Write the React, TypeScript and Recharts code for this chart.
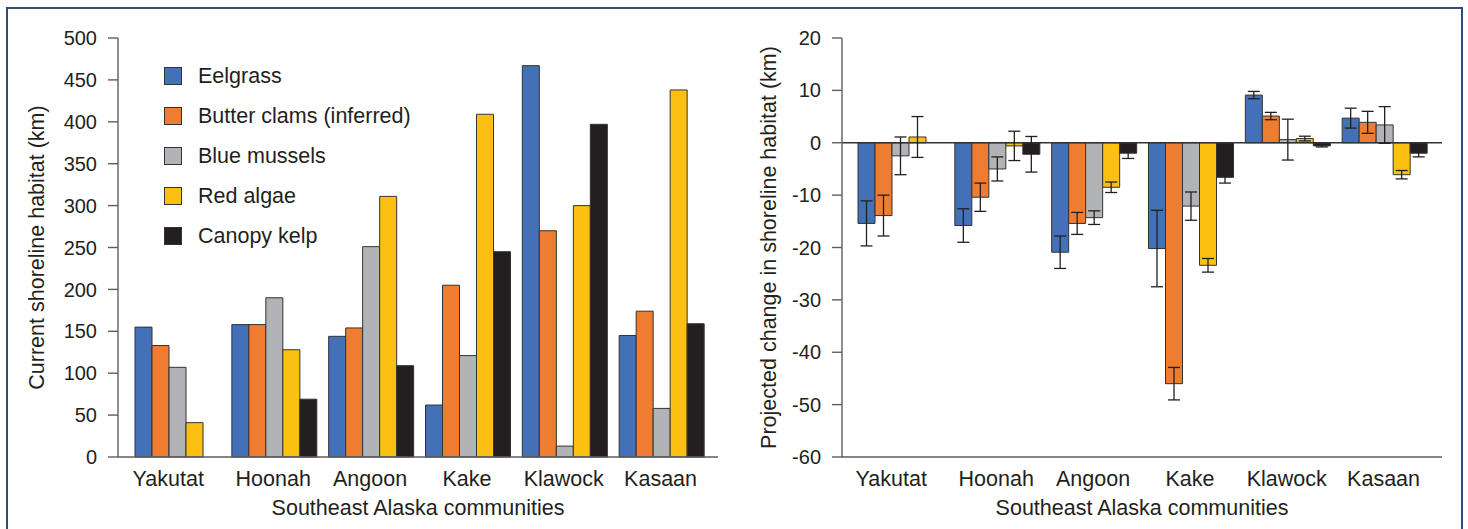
import { BarChart, Bar, XAxis, YAxis, Legend, ReferenceLine, ErrorBar } from 'recharts';

const COMMUNITIES = ['Yakutat', 'Hoonah', 'Angoon', 'Kake', 'Klawock', 'Kasaan'];

const SERIES = [
  { key: 'eelgrass', name: 'Eelgrass', color: '#4470b7' },
  { key: 'butter', name: 'Butter clams (inferred)', color: '#ee7d31' },
  { key: 'mussels', name: 'Blue mussels', color: '#b2b3b6' },
  { key: 'red', name: 'Red algae', color: '#fcc012' },
  { key: 'kelp', name: 'Canopy kelp', color: '#231f20' },
];

// current shoreline habitat (km)
const CURRENT_EELGRASS = [155, 158, 144, 62, 467, 145];
const CURRENT_BUTTER = [133, 158, 154, 205, 270, 174];
const CURRENT_MUSSELS = [107, 190, 251, 121, 13, 58];
const CURRENT_RED = [41, 128, 311, 409, 300, 438];
const CURRENT_KELP = [null, 69, 109, 245, 397, 159];
const CURRENT_TICKS = [0, 50, 100, 150, 200, 250, 300, 350, 400, 450, 500];

// projected change (km) and error
const CHANGE_EELGRASS = [-15.4, -15.8, -20.9, -20.2, 9.1, 4.7];
const CHANGE_BUTTER = [-13.9, -10.4, -15.4, -46.0, 5.1, 3.9];
const CHANGE_MUSSELS = [-2.5, -5.0, -14.3, -12.1, 0.6, 3.4];
const CHANGE_RED = [1.1, -0.6, -8.5, -23.4, 0.8, -6.1];
const CHANGE_KELP = [null, -2.2, -2.0, -6.6, -0.6, -2.0];
const ERR_EELGRASS = [4.3, 3.2, 3.1, 7.3, 0.7, 1.9];
const ERR_BUTTER = [3.9, 2.7, 2.1, 3.1, 0.7, 2.1];
const ERR_MUSSELS = [3.6, 2.3, 1.3, 2.7, 3.9, 3.5];
const ERR_RED = [3.9, 2.8, 1.0, 1.3, 0.45, 0.8];
const ERR_KELP = [null, 3.4, 1.0, 1.1, 0.2, 0.7];
const CHANGE_TICKS = [-60, -50, -40, -30, -20, -10, 0, 10, 20];

const currentData = COMMUNITIES.map((community, i) => ({
  community,
  eelgrass: CURRENT_EELGRASS[i],
  butter: CURRENT_BUTTER[i],
  mussels: CURRENT_MUSSELS[i],
  red: CURRENT_RED[i],
  kelp: CURRENT_KELP[i],
}));

const changeData = COMMUNITIES.map((community, i) => ({
  community,
  eelgrass: CHANGE_EELGRASS[i], eelgrassErr: ERR_EELGRASS[i],
  butter: CHANGE_BUTTER[i], butterErr: ERR_BUTTER[i],
  mussels: CHANGE_MUSSELS[i], musselsErr: ERR_MUSSELS[i],
  red: CHANGE_RED[i], redErr: ERR_RED[i],
  kelp: CHANGE_KELP[i], kelpErr: ERR_KELP[i],
}));

const FONT = '"Liberation Sans", Arial, Helvetica, sans-serif';
const TEXT = '#231f20';
const FRAME = '#5d5e61';
const BAR_W = 16.4;
const tick = { fontSize: 20, fill: TEXT, fontFamily: FONT };
const axisLine = { stroke: FRAME, strokeWidth: 1.4 };
const labelStyle = { fontSize: 21.5, fill: TEXT, fontFamily: FONT };

// community label sits over the bars that actually have data
function CommunityTick({ x, y, payload, data }: any) {
  const row = data[payload.index] || {};
  const missing = SERIES.filter(s => row[s.key] == null).length;
  return (
    <text x={x - (missing * BAR_W) / 2} y={y} dy="0.71em" textAnchor="middle"
      fontSize={21.5} fill={TEXT} fontFamily={FONT}>
      {payload.value}
    </text>
  );
}

function LegendBox() {
  return (
    <div style={{ fontFamily: FONT, fontSize: 21.5, color: TEXT }}>
      {SERIES.map(s => (
        <div key={s.key} style={{ display: 'flex', alignItems: 'center', height: 40 }}>
          <span style={{
            width: 18, height: 18, background: s.color, border: '1.5px solid #333',
            boxSizing: 'border-box', marginRight: 16, flex: 'none',
          }} />
          <span style={{ whiteSpace: 'nowrap' }}>{s.name}</span>
        </div>
      ))}
    </div>
  );
}

export default function App() {
  return (
    <div style={{
      position: 'absolute', left: 0, top: 0, width: 1468, height: 529,
      overflow: 'hidden', background: '#fff', fontFamily: FONT,
    }}>
      <div style={{
        position: 'absolute', left: 6, top: 7, width: 1457, height: 600,
        border: '2px solid #2f4d74', boxSizing: 'border-box',
      }} />

      <div style={{ position: 'absolute', left: 0, top: 0 }}>
        <BarChart width={740} height={529} data={currentData}
          margin={{ top: 38, right: 22, bottom: 0, left: 0 }}
          barCategoryGap={7} barGap={0}>
          <XAxis dataKey="community" tick={<CommunityTick data={currentData} />} tickLine={false} tickSize={0} tickMargin={14}
            axisLine={axisLine} height={72} interval={0} padding={{ left: 10, right: 9 }}
            label={{ value: 'Southeast Alaska communities', position: 'insideBottom', offset: 14, style: labelStyle }} />
          <XAxis xAxisId="top" orientation="top" dataKey="community" tick={false} tickLine={false}
            axisLine={axisLine} height={0} padding={{ left: 10, right: 9 }} />
          <YAxis domain={[0, 500]} ticks={CURRENT_TICKS} tick={tick} tickSize={10} tickMargin={11}
            tickLine={{ stroke: FRAME, strokeWidth: 1.4 }} axisLine={axisLine} width={118}
            label={{ value: 'Current shoreline habitat (km)', angle: -90, position: 'insideLeft', offset: 36, style: { ...labelStyle, textAnchor: 'middle' } }} />
          <YAxis yAxisId="right" orientation="right" tick={false} tickLine={false} axisLine={axisLine} width={0} />
          <Legend layout="vertical" align="center" verticalAlign="middle" content={() => <LegendBox />}
            wrapperStyle={{ left: 164, top: 56, width: 'auto', height: 'auto' }} />
          {SERIES.map(s => (
            <Bar key={s.key} dataKey={s.key} name={s.name} fill={s.color} stroke="#333" strokeWidth={1}
              isAnimationActive={false} />
          ))}
        </BarChart>
      </div>

      <div style={{ position: 'absolute', left: 740, top: 0 }}>
        <BarChart width={728} height={529} data={changeData}
          margin={{ top: 38, right: 26, bottom: 0, left: 0 }}
          barCategoryGap={7} barGap={0}>
          <XAxis dataKey="community" tick={<CommunityTick data={changeData} />} tickLine={false} tickSize={0} tickMargin={14}
            axisLine={axisLine} height={72} interval={0} padding={{ left: 9, right: 10 }}
            label={{ value: 'Southeast Alaska communities', position: 'insideBottom', offset: 14, style: labelStyle }} />
          <XAxis xAxisId="top" orientation="top" dataKey="community" tick={false} tickLine={false}
            axisLine={axisLine} height={0} padding={{ left: 9, right: 10 }} />
          <YAxis domain={[-60, 20]} ticks={CHANGE_TICKS} tick={tick} tickSize={10} tickMargin={11}
            tickLine={{ stroke: FRAME, strokeWidth: 1.4 }} axisLine={axisLine} width={102}
            label={{ value: 'Projected change in shoreline habitat (km)', angle: -90, position: 'insideLeft', offset: 28, style: { ...labelStyle, textAnchor: 'middle' } }} />
          <YAxis yAxisId="right" orientation="right" tick={false} tickLine={false} axisLine={axisLine} width={0} />
          <ReferenceLine y={0} stroke="#333" strokeWidth={1.3} />
          {SERIES.map(s => (
            <Bar key={s.key} dataKey={s.key} name={s.name} fill={s.color} stroke="#333" strokeWidth={1}
              isAnimationActive={false}>
              <ErrorBar dataKey={`${s.key}Err`} width={6} stroke={TEXT} strokeWidth={1.3} direction="y" />
            </Bar>
          ))}
        </BarChart>
      </div>
    </div>
  );
}
